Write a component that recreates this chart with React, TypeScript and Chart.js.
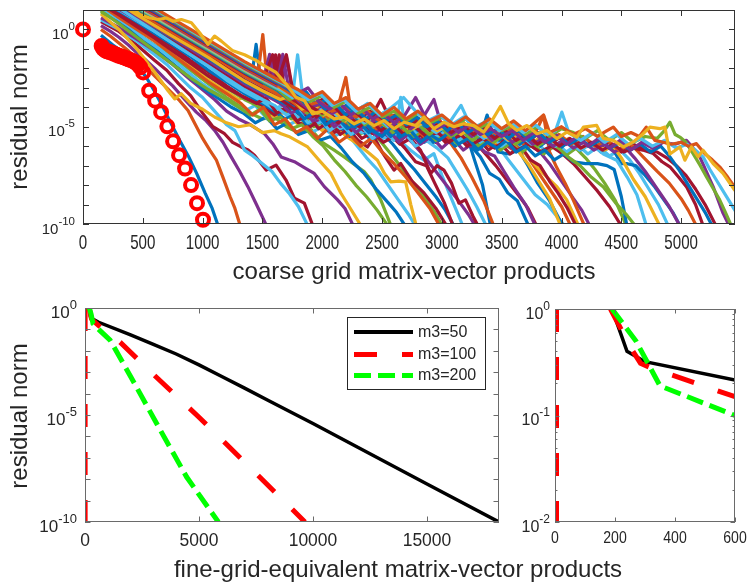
import React, { useEffect, useRef } from "react";
import { Chart, registerables } from "chart.js";
Chart.register(...registerables);

const MATLAB = ["#0072BD", "#D95319", "#EDB120", "#7E2F8E", "#77AC30", "#4DBEEE", "#A2142F"];
const FONT = "'Liberation Sans', Arial, sans-serif";

// ---------- top panel: coarse grid runs (x, log10 residual) ----------
const circleX = [0, 156, 170, 185, 200, 220, 240, 260, 280, 300, 320, 340, 360, 380, 400, 420, 440, 460, 480, 503, 553, 603, 653, 705, 753, 803, 853, 903, 953, 1003];
const circleExp = [0, -0.85, -1.0, -1.08, -1.12, -1.16, -1.2, -1.25, -1.3, -1.35, -1.39, -1.43, -1.48, -1.53, -1.58, -1.63, -1.7, -1.8, -1.95, -2.21, -3.15, -3.66, -4.25, -4.98, -5.75, -6.46, -7.15, -8.0, -8.93, -9.78];

const runColor = [0, 1, 3, 6, 5, 3, 2, 4, 0, 5, 2, 4, 6, 0, 5, 3, 6, 0, 1, 0, 6, 5, 1, 2, 3,
  4, 1, 6, 5, 3, 0, 6, 4, 1, 2, 5, 6, 0,
  6, 0, 4, 5, 2, 3, 1, 6, 0, 3, 4, 5, 1, 2];

const runs: number[][] = [
  [150,-0.3, 250,-0.8, 330,-1.15, 392,-1.44, 460,-1.9, 530,-2.47, 600,-3.2, 660,-3.9, 725,-4.7, 808,-5.7, 880,-6.5, 950,-7.4, 1020,-8.4, 1080,-9.2, 1130,-10.1],
  [150,0.0, 230,-0.35, 300,-0.7, 380,-1.1, 450,-1.5, 530,-1.95, 600,-2.4, 700,-3.0, 808,-3.66, 878,-4.17, 940,-4.9, 1000,-5.6, 1060,-6.2, 1114,-6.7, 1170,-7.6, 1230,-8.6, 1270,-9.2, 1315,-10.1],
  [150,0.2, 230,-0.1, 300,-0.4, 380,-0.8, 450,-1.2, 530,-1.6, 600,-2.0, 680,-2.5, 750,-2.9, 850,-3.6, 947,-4.25, 1030,-4.7, 1100,-5.19, 1170,-5.8, 1239,-6.55, 1310,-7.3, 1378,-8.08, 1450,-9.0, 1535,-10.1],
  [150,0.4, 300,-0.1, 450,-0.8, 600,-1.6, 700,-2.1, 800,-2.8, 900,-3.4, 1000,-4.3, 1086,-5.0, 1183,-5.36, 1250,-5.8, 1322,-6.04, 1380,-6.2, 1433,-6.46, 1531,-7.23, 1614,-6.97, 1697,-7.74, 1767,-8.67, 1850,-8.93, 1922,-10.1],
  [150,0.5, 300,0.0, 450,-0.6, 600,-1.3, 700,-1.8, 800,-2.4, 900,-3.0, 1000,-3.5, 1100,-4.2, 1200,-4.9, 1270,-5.2, 1350,-6.2, 1420,-6.5, 1500,-6.9, 1580,-7.3, 1650,-7.9, 1720,-8.4, 1800,-9.1, 1880,-10.1],
  [150,0.6, 300,0.1, 450,-0.5, 600,-1.1, 750,-1.8, 900,-2.6, 1000,-3.1, 1100,-3.6, 1200,-4.2, 1300,-4.6, 1400,-4.9, 1517,-5.36, 1586,-5.87, 1656,-6.55, 1720,-6.7, 1767,-6.8, 1850,-7.1, 1933,-7.4, 2017,-8.08, 2128,-8.76, 2190,-9.2, 2260,-10.1],
  [150,0.8, 300,0.0, 450,-1.0, 600,-2.2, 711,-3.15, 767,-3.57, 820,-3.3, 900,-3.8, 1000,-4.1, 1100,-4.5, 1200,-4.8, 1300,-5.0, 1400,-4.9, 1500,-5.3, 1600,-5.2, 1656,-5.36, 1720,-5.5, 1780,-5.7, 1878,-6.04, 1970,-6.7, 2072,-7.4, 2156,-8.42, 2225,-9.1, 2325,-10.1],
  [150,0.9, 300,0.4, 450,-0.2, 600,-0.8, 750,-1.4, 900,-2.1, 1050,-2.8, 1200,-3.5, 1300,-3.9, 1400,-4.3, 1500,-4.6, 1600,-4.5, 1700,-5.0, 1800,-5.3, 1900,-5.1, 2000,-5.8, 2100,-6.2, 2183,-6.55, 2260,-6.9, 2350,-7.3, 2406,-7.74, 2489,-8.76, 2575,-10.1],
  [150,1.0, 280,0.5, 400,-0.1, 520,-0.6, 640,-1.2, 760,-1.8, 880,-2.4, 1000,-3.0, 1120,-3.5, 1240,-4.0, 1340,-4.3, 1440,-4.8, 1530,-4.5, 1620,-5.1, 1710,-4.8, 1800,-5.4, 1890,-5.2, 1980,-5.7, 2070,-5.5, 2160,-6.1, 2250,-6.8, 2350,-7.4, 2450,-8.2, 2550,-8.9, 2620,-9.4, 2705,-10.2],
  [150,1.1, 280,0.6, 400,0.1, 520,-0.5, 640,-1.0, 760,-1.6, 880,-2.2, 1000,-2.8, 1120,-3.3, 1240,-3.8, 1350,-4.2, 1440,-3.9, 1540,-4.6, 1630,-4.3, 1720,-4.9, 1820,-4.6, 1910,-5.3, 2000,-5.0, 2100,-5.5, 2190,-5.2, 2280,-5.9, 2370,-6.6, 2460,-7.2, 2550,-8.0, 2640,-8.8, 2720,-9.5, 2800,-10.3],
  [150,1.2, 300,0.7, 450,0.1, 600,-0.5, 750,-1.2, 900,-1.9, 1050,-2.6, 1200,-3.2, 1300,-3.6, 1400,-3.3, 1500,-4.0, 1600,-4.5, 1700,-4.2, 1800,-4.9, 1900,-4.6, 2000,-5.2, 2100,-4.9, 2200,-5.5, 2300,-5.9, 2400,-6.4, 2461,-6.72, 2520,-7.4, 2572,-7.83, 2640,-7.8, 2697,-7.83, 2740,-9.0, 2790,-10.2],
  [150,1.3, 300,0.8, 450,0.2, 600,-0.4, 750,-1.0, 900,-1.7, 1050,-2.4, 1200,-3.0, 1350,-3.6, 1450,-3.9, 1550,-4.4, 1640,-4.0, 1740,-4.6, 1830,-4.3, 1930,-5.0, 2020,-4.7, 2120,-5.2, 2210,-4.8, 2310,-5.4, 2400,-5.1, 2480,-5.7, 2560,-6.3, 2650,-7.0, 2750,-7.8, 2850,-8.6, 2950,-9.5, 3020,-10.3],
  [150,1.35, 300,0.9, 450,0.3, 600,-0.3, 750,-0.9, 900,-1.6, 1050,-2.2, 1200,-2.9, 1350,-3.5, 1500,-3.9, 1600,-4.4, 1700,-4.1, 1800,-4.8, 1900,-5.0, 2000,-4.6, 2100,-5.3, 2200,-5.0, 2300,-5.7, 2378,-6.04, 2433,-5.53, 2500,-6.3, 2600,-7.23, 2656,-6.89, 2750,-7.8, 2850,-8.4, 2950,-9.2, 3050,-10.2],
  [150,1.4, 300,0.95, 450,0.4, 600,-0.2, 750,-0.8, 900,-1.4, 1050,-2.1, 1200,-2.7, 1350,-3.3, 1500,-3.8, 1600,-4.2, 1690,-4.6, 1780,-4.2, 1870,-4.9, 1960,-4.5, 2050,-5.2, 2140,-4.9, 2230,-5.5, 2320,-5.1, 2410,-5.7, 2500,-5.3, 2590,-5.9, 2680,-6.6, 2770,-7.2, 2860,-7.9, 2950,-8.6, 3030,-9.3, 3110,-10.2],
  [150,1.45, 300,1.0, 450,0.45, 600,-0.1, 750,-0.7, 900,-1.3, 1050,-1.9, 1200,-2.6, 1350,-3.2, 1500,-3.7, 1600,-4.1, 1700,-3.8, 1790,-4.5, 1880,-4.2, 1970,-4.8, 2060,-4.5, 2150,-5.1, 2240,-4.7, 2330,-5.3, 2420,-5.0, 2510,-5.6, 2600,-5.3, 2680,-5.9, 2739,-6.21, 2800,-6.5, 2850,-6.72, 2933,-6.38, 3000,-7.5, 3080,-8.7, 3175,-10.1],
  [150,1.5, 300,1.05, 450,0.5, 600,0.0, 750,-0.6, 900,-1.2, 1050,-1.8, 1200,-2.4, 1350,-3.0, 1500,-3.5, 1600,-1.4, 1650,-3.3, 1700,-1.4, 1760,-3.6, 1850,-4.3, 1950,-4.7, 2050,-4.4, 2150,-5.0, 2250,-4.7, 2350,-5.2, 2450,-4.9, 2550,-5.5, 2650,-5.2, 2750,-5.8, 2850,-6.5, 2950,-7.3, 3050,-8.1, 3150,-8.9, 3220,-9.5, 3290,-10.2],
  [150,1.55, 300,1.1, 450,0.55, 600,0.05, 750,-0.5, 900,-1.1, 1050,-1.7, 1200,-2.3, 1350,-2.9, 1500,-3.4, 1580,-3.2, 1640,-1.3, 1690,-3.4, 1750,-4.0, 1850,-4.6, 1950,-4.3, 2050,-4.9, 2150,-4.6, 2250,-5.2, 2350,-4.9, 2450,-5.5, 2550,-5.3, 2650,-5.9, 2740,-5.6, 2822,-6.21, 2906,-7.4, 2960,-7.0, 3017,-7.23, 3080,-7.9, 3142,-8.93, 3197,-8.76, 3260,-9.6, 3320,-10.3],
  [150,1.6, 300,1.15, 450,0.6, 600,0.1, 750,-0.45, 900,-1.0, 1050,-1.6, 1200,-2.2, 1300,-2.5, 1400,-2.9, 1447,-0.77, 1490,-2.9, 1560,-3.4, 1650,-3.8, 1750,-4.1, 1850,-4.5, 1950,-4.2, 2050,-4.8, 2150,-4.5, 2250,-5.1, 2350,-4.8, 2450,-5.3, 2550,-5.0, 2650,-5.6, 2750,-5.3, 2850,-5.8, 2950,-5.5, 3040,-5.2, 3100,-5.36, 3170,-5.7, 3239,-6.04, 3267,-6.6, 3340,-8.0, 3410,-10.2],
  [150,1.65, 300,1.2, 450,0.65, 600,0.15, 750,-0.4, 900,-0.95, 1050,-1.5, 1200,-2.1, 1350,-2.7, 1450,-3.0, 1503,-0.26, 1545,-3.0, 1600,-3.3, 1700,-3.7, 1800,-4.0, 1900,-4.4, 2000,-4.2, 2100,-4.7, 2197,-2.47, 2250,-4.6, 2300,-5.0, 2400,-4.8, 2500,-5.2, 2600,-5.0, 2700,-5.4, 2800,-5.2, 2900,-5.6, 3000,-5.4, 3080,-5.9, 3160,-6.6, 3250,-7.6, 3350,-8.8, 3440,-10.2],
  [150,1.7, 300,1.25, 450,0.7, 600,0.2, 750,-0.35, 900,-0.9, 1050,-1.45, 1200,-2.0, 1350,-2.6, 1500,-3.1, 1650,-3.6, 1750,-3.9, 1850,-4.3, 1950,-4.1, 2050,-4.6, 2150,-4.4, 2250,-4.9, 2350,-4.7, 2450,-5.1, 2550,-4.9, 2650,-5.3, 2750,-5.1, 2850,-5.5, 2950,-5.3, 3050,-5.7, 3150,-5.5, 3230,-5.9, 3322,-6.55, 3400,-7.4, 3480,-7.7, 3550,-8.4, 3630,-8.8, 3725,-10.1],
  [150,1.75, 300,1.3, 450,0.75, 600,0.25, 750,-0.3, 900,-0.85, 1050,-1.4, 1200,-1.95, 1350,-2.5, 1500,-3.0, 1560,-2.9, 1610,-1.3, 1660,-3.2, 1750,-3.8, 1850,-4.2, 1950,-4.6, 2050,-4.4, 2150,-4.9, 2250,-4.7, 2350,-5.2, 2450,-5.0, 2550,-5.4, 2650,-5.2, 2750,-5.6, 2850,-5.4, 2950,-5.8, 3050,-5.4, 3150,-5.8, 3250,-5.6, 3350,-6.3, 3450,-7.0, 3550,-7.8, 3650,-8.6, 3720,-9.2, 3800,-10.2],
  [150,1.8, 300,1.35, 450,0.8, 600,0.3, 750,-0.25, 900,-0.8, 1050,-1.35, 1200,-1.9, 1350,-2.45, 1500,-2.95, 1640,-3.3, 1750,-3.6, 1800,-3.9, 1900,-4.3, 2000,-4.1, 2100,-4.6, 2200,-4.4, 2300,-4.9, 2400,-4.7, 2500,-5.1, 2600,-4.9, 2700,-5.3, 2800,-5.1, 2900,-5.5, 3000,-5.3, 3100,-5.7, 3200,-5.5, 3300,-5.9, 3400,-5.7, 3480,-6.1, 3580,-6.9, 3680,-7.7, 3780,-8.5, 3880,-9.0, 3960,-9.6, 4040,-10.2],
  [150,1.85, 300,1.4, 450,0.85, 600,0.35, 750,-0.2, 900,-0.75, 1050,-1.3, 1200,-1.85, 1350,-2.4, 1500,-2.9, 1650,-3.4, 1800,-3.85, 1900,-4.2, 2000,-4.5, 2100,-4.3, 2200,-4.8, 2300,-4.6, 2400,-5.0, 2500,-4.8, 2600,-5.2, 2700,-5.0, 2800,-5.4, 2900,-5.2, 3000,-5.6, 3100,-5.4, 3200,-5.8, 3300,-5.6, 3400,-6.0, 3500,-5.8, 3600,-6.2, 3700,-6.38, 3800,-7.3, 3900,-8.2, 4000,-9.1, 4085,-10.2],
  [150,1.9, 300,1.45, 450,0.9, 600,0.4, 750,-0.15, 900,-0.7, 1050,-1.25, 1200,-1.8, 1350,-2.35, 1500,-2.85, 1650,-3.3, 1800,-3.75, 1900,-4.1, 2000,-4.4, 2100,-4.2, 2200,-4.7, 2300,-4.5, 2400,-4.9, 2500,-4.7, 2600,-5.1, 2700,-4.9, 2800,-5.3, 2900,-5.1, 3000,-5.5, 3100,-5.3, 3200,-5.7, 3300,-5.5, 3400,-5.9, 3500,-5.6, 3600,-5.9, 3700,-6.4, 3794,-7.06, 3880,-7.6, 3961,-8.08, 4044,-8.76, 4150,-10.2],
  [150,1.95, 300,1.5, 450,0.95, 600,0.45, 750,-0.1, 900,-0.65, 1050,-1.2, 1200,-1.75, 1350,-2.3, 1500,-2.8, 1560,-1.28, 1610,-3.0, 1700,-3.4, 1795,-3.9, 1880,-4.5, 1965,-4.1, 2050,-4.6, 2135,-4.9, 2220,-4.4, 2305,-5.0, 2390,-4.8, 2475,-5.3, 2560,-4.9, 2645,-5.4, 2730,-5.1, 2815,-5.7, 2900,-5.4, 2985,-5.2, 3070,-5.8, 3155,-5.5, 3240,-6.0, 3325,-5.6, 3410,-5.9, 3495,-5.6, 3580,-6.1, 3665,-5.8, 3750,-6.0, 3820,-6.3, 3900,-6.9, 4000,-7.8, 4100,-8.7, 4170,-9.3, 4245,-10.2],
  // extra runs filling the band
  [150,0.95, 300,0.3, 450,-0.4, 600,-1.1, 750,-1.8, 900,-2.5, 1050,-3.1, 1200,-3.6, 1300,-4.0, 1400,-4.4, 1480,-4.1, 1560,-4.7, 1650,-4.5, 1740,-5.1, 1830,-4.9, 1920,-5.5, 2010,-6.0, 2100,-6.7, 2190,-7.3, 2280,-8.0, 2370,-8.6, 2460,-9.3, 2560,-10.2],
  [150,1.25, 300,0.6, 450,0.0, 600,-0.6, 750,-1.3, 900,-2.0, 1050,-2.7, 1200,-3.3, 1320,-3.8, 1420,-4.4, 1510,-4.0, 1600,-4.9, 1690,-4.6, 1780,-5.3, 1870,-5.0, 1960,-5.6, 2050,-5.1, 2140,-5.8, 2230,-5.4, 2320,-6.0, 2410,-5.6, 2500,-6.3, 2600,-6.9, 2700,-7.6, 2800,-8.4, 2900,-9.2, 2990,-10.2],
  [150,1.3, 300,0.75, 450,0.15, 600,-0.45, 750,-1.1, 900,-1.75, 1050,-2.4, 1200,-3.0, 1350,-3.5, 1450,-3.8, 1530,-3.5, 1620,-4.3, 1700,-4.0, 1790,-4.7, 1880,-4.4, 1970,-5.1, 2060,-4.7, 2150,-5.4, 2240,-5.0, 2330,-5.6, 2420,-5.3, 2510,-5.8, 2600,-5.5, 2690,-6.1, 2780,-6.8, 2870,-7.0, 2940,-7.9, 3020,-8.9, 3100,-10.2],
  [150,1.6, 300,1.1, 450,0.5, 600,-0.1, 750,-0.7, 900,-1.3, 1050,-1.9, 1200,-2.5, 1350,-3.1, 1500,-3.6, 1600,-3.9, 1700,-4.4, 1790,-4.1, 1880,-4.8, 1970,-4.5, 2060,-5.2, 2150,-4.8, 2240,-5.4, 2330,-5.0, 2420,-5.6, 2510,-5.2, 2600,-5.7, 2656,-3.49, 2700,-5.4, 2780,-6.0, 2870,-5.7, 2960,-6.1, 3050,-6.6, 3130,-7.4, 3210,-8.2, 3290,-9.1, 3380,-10.2],
  [150,1.8, 300,1.3, 450,0.7, 600,0.15, 750,-0.4, 900,-1.0, 1050,-1.6, 1200,-2.2, 1350,-2.8, 1500,-3.3, 1650,-3.8, 1740,-4.3, 1830,-4.0, 1920,-4.7, 2010,-4.3, 2100,-5.0, 2190,-4.6, 2280,-5.3, 2370,-4.9, 2460,-5.5, 2550,-5.1, 2640,-5.8, 2730,-5.3, 2820,-5.9, 2910,-5.5, 3000,-6.1, 3090,-5.6, 3180,-6.2, 3270,-5.8, 3360,-6.3, 3440,-6.5, 3520,-7.3, 3600,-8.1, 3700,-9.0, 3790,-10.2],
  [150,1.9, 300,1.4, 450,0.8, 600,0.25, 750,-0.3, 900,-0.9, 1050,-1.5, 1200,-2.1, 1350,-2.7, 1500,-3.2, 1650,-3.7, 1760,-4.0, 1850,-4.6, 1940,-4.2, 2030,-4.9, 2120,-4.5, 2210,-5.1, 2300,-4.7, 2390,-5.3, 2480,-4.9, 2570,-5.5, 2660,-5.0, 2750,-5.6, 2840,-5.2, 2930,-5.8, 3020,-5.4, 3110,-6.0, 3200,-5.6, 3290,-6.1, 3378,-4.4, 3470,-6.3, 3560,-6.4, 3640,-6.2, 3720,-7.0, 3800,-7.9, 3900,-8.8, 4020,-10.2],
  [150,2.0, 300,1.45, 450,0.9, 600,0.35, 750,-0.2, 900,-0.8, 1050,-1.4, 1200,-2.0, 1350,-2.6, 1500,-3.1, 1650,-3.6, 1770,-4.1, 1860,-3.8, 1950,-4.5, 2040,-4.1, 2130,-4.8, 2220,-4.4, 2310,-5.0, 2400,-4.6, 2489,-3.6, 2580,-4.8, 2670,-5.4, 2760,-5.0, 2850,-5.6, 2940,-5.2, 3030,-5.8, 3120,-5.4, 3210,-6.0, 3300,-5.6, 3390,-6.2, 3480,-5.8, 3570,-6.4, 3660,-6.0, 3740,-6.7, 3820,-7.0, 3900,-7.8, 3970,-8.4, 4050,-9.2, 4130,-10.2],
  [150,2.15, 300,1.6, 450,1.05, 600,0.5, 750,-0.05, 900,-0.6, 1050,-1.15, 1200,-1.7, 1350,-2.3, 1500,-2.8, 1650,-3.3, 1780,-3.8, 1870,-4.3, 1960,-3.9, 2050,-4.6, 2140,-4.2, 2230,-4.9, 2320,-4.5, 2410,-5.1, 2500,-4.7, 2590,-5.3, 2680,-4.9, 2770,-5.5, 2860,-5.1, 2950,-5.7, 3040,-5.3, 3130,-5.9, 3220,-5.5, 3310,-6.0, 3400,-5.6, 3490,-6.2, 3580,-5.8, 3670,-6.3, 3760,-5.9, 3850,-6.4, 3940,-6.0, 4030,-6.5, 4120,-6.1, 4200,-6.6, 4280,-7.2, 4360,-7.9, 4450,-8.8, 4550,-10.2],
  [150,2.05, 300,1.5, 450,0.95, 600,0.4, 750,-0.15, 900,-0.7, 1050,-1.25, 1200,-1.8, 1350,-2.4, 1500,-2.9, 1650,-3.4, 1750,-3.7, 1850,-4.2, 1950,-3.9, 2050,-4.5, 2150,-4.2, 2250,-4.8, 2350,-4.4, 2450,-5.1, 2550,-4.6, 2650,-5.3, 2750,-4.9, 2850,-5.5, 2950,-5.0, 3050,-5.6, 3150,-5.2, 3250,-5.8, 3350,-5.4, 3450,-5.9, 3550,-5.5, 3650,-6.0, 3750,-5.7, 3850,-4.42, 3900,-6.3, 3960,-7.1, 4030,-7.9, 4100,-8.8, 4200,-10.2],
  [150,1.85, 300,1.35, 450,0.75, 600,0.2, 750,-0.35, 900,-0.9, 1050,-1.45, 1200,-2.05, 1350,-2.65, 1500,-3.15, 1650,-3.6, 1740,-3.4, 1830,-4.1, 1920,-3.8, 2010,-4.4, 2100,-4.1, 2190,-4.7, 2280,-4.3, 2370,-4.9, 2460,-4.6, 2550,-5.1, 2640,-4.7, 2730,-5.3, 2820,-4.9, 2910,-5.4, 3000,-5.0, 3090,-5.5, 3180,-5.2, 3270,-5.7, 3360,-5.3, 3450,-5.8, 3540,-5.5, 3630,-6.2, 3720,-6.9, 3800,-7.7, 3900,-8.7, 4000,-10.2],
  [150,2.3, 300,1.75, 450,1.2, 600,0.65, 750,0.1, 900,-0.45, 1050,-1.0, 1200,-1.55, 1350,-2.1, 1500,-2.6, 1650,-3.1, 1790,-3.6, 1880,-4.1, 1970,-3.7, 2060,-4.4, 2150,-4.0, 2240,-4.7, 2330,-4.3, 2420,-4.9, 2510,-4.5, 2600,-5.1, 2690,-4.7, 2780,-5.3, 2870,-4.9, 2960,-5.5, 3050,-5.1, 3140,-5.7, 3230,-5.3, 3320,-5.8, 3410,-5.4, 3500,-6.0, 3590,-5.6, 3680,-6.1, 3770,-5.7, 3860,-6.2, 3950,-5.8, 4040,-6.3, 4130,-5.9, 4220,-6.4, 4310,-6.0, 4400,-6.5, 4490,-6.2, 4570,-6.7, 4650,-7.4, 4730,-8.2, 4810,-9.0, 4900,-10.2],
  [150,2.4, 300,1.9, 450,1.35, 600,0.8, 750,0.25, 900,-0.3, 1050,-0.85, 1200,-1.4, 1350,-1.95, 1500,-2.45, 1650,-2.95, 1800,-3.45, 1900,-3.9, 2000,-3.6, 2100,-4.3, 2200,-3.9, 2300,-4.6, 2400,-4.2, 2500,-4.8, 2600,-4.4, 2700,-5.0, 2800,-4.6, 2900,-5.2, 3000,-4.8, 3100,-5.4, 3200,-5.0, 3300,-5.6, 3400,-5.2, 3500,-5.7, 3600,-5.3, 3700,-5.8, 3800,-5.4, 3900,-5.9, 4000,-5.5, 4100,-6.0, 4200,-5.6, 4300,-6.1, 4400,-5.8, 4500,-6.3, 4600,-5.9, 4700,-6.2, 4800,-6.3, 4880,-6.6, 4960,-7.0, 5040,-7.5, 5120,-8.2, 5200,-9.0, 5300,-10.2],
  [150,2.35, 300,1.85, 450,1.3, 600,0.75, 750,0.2, 900,-0.35, 1050,-0.9, 1200,-1.45, 1350,-2.0, 1500,-2.5, 1650,-3.0, 1780,-3.5, 1865,-3.2, 1950,-3.9, 2035,-3.6, 2120,-4.3, 2205,-3.9, 2290,-4.6, 2375,-4.2, 2460,-4.8, 2545,-4.4, 2630,-5.0, 2715,-4.6, 2800,-5.2, 2885,-4.8, 2970,-5.3, 3055,-4.9, 3140,-5.5, 3225,-5.1, 3310,-5.6, 3395,-5.2, 3480,-5.7, 3565,-5.3, 3650,-5.9, 3735,-5.5, 3820,-6.0, 3905,-5.6, 3990,-6.1, 4075,-5.7, 4160,-6.2, 4245,-5.8, 4330,-6.3, 4415,-6.0, 4500,-6.9, 4550,-6.9, 4620,-7.0, 4700,-7.5, 4780,-8.1, 4860,-8.8, 4930,-9.4, 5000,-10.2],
  // long runs
  [150,2.0, 300,1.55, 450,1.0, 600,0.5, 750,-0.05, 900,-0.6, 1050,-1.15, 1200,-1.7, 1350,-2.25, 1500,-2.75, 1585,-1.3, 1635,-3.0, 1730,-3.5, 1825,-3.9, 1920,-4.3, 2015,-4.0, 2110,-4.6, 2205,-4.3, 2300,-4.9, 2395,-4.6, 2490,-5.2, 2585,-4.8, 2680,-5.4, 2775,-5.0, 2870,-5.5, 2965,-5.3, 3060,-5.8, 3155,-5.4, 3250,-5.9, 3345,-5.6, 3440,-6.1, 3535,-5.7, 3630,-6.2, 3725,-5.9, 3820,-6.3, 3915,-6.0, 4010,-6.4, 4100,-6.9, 4200,-7.6, 4300,-8.3, 4400,-9.1, 4500,-10.1],
  [150,2.05, 300,1.6, 450,1.05, 600,0.55, 750,0.0, 900,-0.55, 1050,-1.1, 1200,-1.65, 1350,-2.2, 1500,-2.7, 1620,-3.1, 1700,-3.5, 1780,-3.3, 1860,-3.9, 1940,-4.3, 2020,-4.1, 2100,-4.7, 2180,-4.4, 2260,-5.0, 2340,-4.7, 2420,-5.2, 2500,-5.5, 2580,-5.0, 2660,-5.5, 2740,-5.2, 2820,-5.8, 2900,-5.4, 2980,-5.7, 3060,-5.3, 3140,-5.9, 3220,-5.6, 3300,-6.2, 3380,-5.8, 3460,-6.1, 3540,-5.7, 3620,-6.3, 3700,-6.0, 3780,-6.5, 3860,-6.2, 3940,-6.7, 4020,-6.4, 4100,-6.8, 4200,-6.9, 4300,-6.9, 4380,-7.0, 4440,-7.2, 4500,-8.6, 4550,-10.2],
  [150,2.1, 300,1.65, 450,1.1, 600,0.6, 750,0.05, 900,-0.5, 1050,-1.05, 1200,-1.6, 1350,-2.15, 1500,-2.65, 1635,-3.1, 1725,-3.6, 1815,-3.4, 1905,-4.0, 1995,-4.4, 2085,-4.1, 2175,-4.7, 2265,-4.3, 2355,-4.9, 2445,-4.5, 2535,-5.0, 2625,-4.7, 2715,-5.3, 2805,-4.9, 2895,-5.4, 2985,-5.0, 3075,-5.5, 3165,-5.2, 3255,-5.7, 3345,-5.3, 3435,-5.8, 3525,-5.4, 3615,-5.9, 3705,-5.5, 3795,-6.0, 3885,-5.7, 3975,-6.1, 4065,-6.6, 4155,-7.0, 4250,-7.6, 4350,-8.1, 4450,-8.9, 4540,-9.5, 4630,-10.2],
  [150,2.15, 300,1.7, 450,1.15, 600,0.65, 750,0.1, 900,-0.45, 1050,-1.0, 1200,-1.55, 1350,-2.1, 1500,-2.6, 1650,-3.1, 1750,-3.5, 1794,-1.3, 1840,-3.6, 1950,-4.2, 2050,-4.0, 2150,-4.6, 2250,-4.2, 2350,-4.8, 2450,-4.4, 2550,-5.0, 2650,-4.6, 2750,-5.1, 2850,-4.8, 2950,-5.3, 3050,-4.9, 3160,-3.9, 3250,-5.1, 3350,-5.6, 3450,-5.2, 3550,-5.7, 3650,-5.4, 3750,-5.9, 3850,-5.5, 3950,-6.0, 4050,-5.7, 4150,-6.2, 4250,-5.9, 4350,-6.4, 4461,-6.72, 4550,-7.6, 4630,-8.5, 4710,-10.1],
  [150,2.2, 300,1.75, 450,1.2, 600,0.7, 750,0.15, 900,-0.4, 1050,-0.95, 1200,-1.5, 1350,-2.05, 1500,-2.55, 1650,-3.0, 1760,-3.4, 1860,-3.9, 1960,-4.3, 2060,-4.0, 2160,-4.5, 2260,-4.2, 2360,-4.7, 2460,-4.4, 2560,-4.9, 2660,-4.6, 2760,-5.1, 2860,-4.7, 2960,-5.2, 3060,-4.9, 3160,-5.4, 3260,-5.0, 3360,-5.5, 3460,-5.2, 3560,-5.7, 3660,-5.3, 3760,-5.8, 3860,-5.4, 3960,-5.9, 4060,-5.6, 4160,-6.1, 4260,-5.8, 4360,-6.2, 4430,-6.0, 4500,-6.6, 4600,-7.7, 4700,-8.6, 4830,-10.2],
  [150,2.25, 300,1.8, 450,1.25, 600,0.75, 750,0.2, 900,-0.35, 1050,-0.9, 1200,-1.45, 1350,-2.0, 1500,-2.5, 1620,-2.9, 1670,-1.28, 1720,-3.1, 1805,-3.7, 1890,-4.1, 1975,-3.8, 2060,-4.4, 2145,-4.1, 2230,-4.6, 2315,-4.3, 2400,-4.8, 2485,-4.5, 2570,-5.0, 2655,-4.6, 2740,-5.1, 2825,-4.7, 2933,-3.6, 2995,-4.9, 3080,-5.4, 3165,-5.0, 3250,-5.5, 3335,-5.1, 3420,-5.7, 3505,-5.3, 3590,-5.8, 3675,-5.4, 3760,-5.9, 3845,-5.6, 3930,-6.0, 4015,-5.7, 4100,-6.1, 4185,-5.8, 4270,-6.2, 4355,-5.9, 4440,-6.3, 4525,-6.0, 4610,-6.6, 4700,-7.3, 4800,-8.2, 4900,-9.1, 4990,-10.1],
  [150,2.3, 300,1.85, 450,1.3, 600,0.8, 750,0.25, 900,-0.3, 1050,-0.85, 1200,-1.4, 1350,-1.95, 1500,-2.45, 1650,-2.95, 1780,-3.5, 1880,-3.9, 1980,-3.7, 2080,-4.2, 2180,-4.0, 2280,-4.5, 2380,-4.2, 2480,-4.7, 2580,-4.4, 2680,-4.9, 2780,-4.5, 2880,-5.0, 2980,-4.7, 3080,-5.2, 3180,-4.8, 3280,-5.3, 3380,-5.0, 3480,-5.5, 3580,-5.1, 3680,-5.6, 3780,-5.2, 3880,-5.7, 3980,-5.4, 4080,-5.9, 4180,-5.5, 4280,-6.0, 4380,-5.7, 4480,-6.2, 4580,-5.9, 4708,-6.72, 4800,-7.3, 4900,-7.9, 5000,-8.7, 5060,-9.3, 5128,-10.1],
  [150,2.35, 300,1.9, 450,1.35, 600,0.85, 750,0.3, 900,-0.25, 1050,-0.8, 1200,-1.35, 1350,-1.9, 1500,-2.4, 1620,-2.8, 1700,-1.3, 1750,-3.0, 1820,-3.6, 1910,-4.0, 2000,-4.3, 2090,-3.9, 2180,-4.5, 2270,-4.2, 2360,-4.7, 2450,-4.3, 2540,-4.8, 2630,-4.5, 2720,-5.0, 2810,-4.6, 2900,-5.1, 2990,-4.8, 3080,-5.3, 3170,-4.9, 3260,-5.4, 3350,-5.1, 3440,-5.6, 3530,-5.2, 3620,-5.7, 3710,-5.4, 3800,-5.9, 3890,-5.5, 3980,-6.0, 4070,-5.6, 4160,-6.1, 4250,-5.8, 4340,-6.2, 4430,-5.9, 4520,-6.3, 4600,-6.1, 4680,-6.2, 4767,-6.38, 4840,-6.8, 4906,-7.06, 4980,-7.6, 5044,-8.08, 5120,-9.0, 5190,-10.2],
  [150,2.4, 300,1.95, 450,1.4, 600,0.9, 750,0.35, 900,-0.2, 1050,-0.75, 1200,-1.3, 1350,-1.85, 1500,-2.35, 1650,-2.85, 1770,-3.3, 1855,-3.8, 1940,-3.5, 2025,-4.1, 2110,-3.8, 2195,-4.4, 2280,-4.1, 2365,-4.6, 2450,-4.2, 2535,-4.7, 2620,-4.4, 2705,-4.9, 2790,-4.5, 2875,-5.0, 2960,-4.7, 3045,-5.2, 3130,-4.8, 3215,-5.3, 3300,-5.0, 3385,-5.4, 3470,-5.1, 3555,-5.6, 3640,-5.2, 3725,-5.7, 3810,-5.3, 3895,-5.8, 3980,-5.5, 4065,-5.9, 4150,-5.6, 4235,-6.0, 4320,-5.7, 4405,-6.1, 4490,-5.8, 4575,-6.2, 4660,-5.9, 4745,-6.3, 4830,-6.0, 4900,-6.5, 4980,-7.2, 5060,-8.0, 5140,-8.8, 5200,-9.4, 5260,-10.1],
  [150,2.45, 300,2.0, 450,1.45, 600,0.95, 750,0.4, 900,-0.15, 1050,-0.7, 1200,-1.25, 1350,-1.8, 1500,-2.3, 1650,-2.8, 1790,-3.3, 1880,-3.0, 1970,-3.7, 2060,-4.1, 2150,-3.8, 2240,-4.4, 2330,-4.0, 2420,-4.6, 2510,-4.3, 2600,-4.8, 2690,-4.4, 2780,-3.5, 2870,-4.6, 2960,-5.1, 3050,-4.8, 3140,-5.3, 3230,-4.9, 3320,-5.4, 3410,-5.1, 3500,-5.5, 3590,-5.2, 3680,-5.7, 3770,-5.3, 3860,-5.8, 3950,-5.4, 4040,-5.9, 4130,-5.5, 4220,-6.0, 4310,-5.6, 4400,-6.1, 4490,-5.7, 4580,-6.2, 4670,-5.8, 4760,-6.1, 4850,-5.8, 4950,-5.9, 5044,-5.7, 5100,-6.1, 5156,-6.55, 5210,-7.3, 5267,-8.08, 5350,-9.44, 5410,-10.2],
  [150,2.5, 300,2.05, 450,1.5, 600,1.0, 750,0.45, 900,-0.1, 1050,-0.65, 1200,-1.2, 1350,-1.75, 1500,-2.25, 1650,-2.75, 1800,-3.25, 1900,-3.7, 2000,-3.4, 2100,-4.0, 2200,-3.7, 2300,-4.3, 2400,-4.0, 2500,-4.5, 2600,-4.2, 2700,-4.7, 2800,-4.3, 2900,-4.8, 3000,-4.5, 3100,-5.0, 3200,-4.6, 3300,-5.1, 3400,-4.8, 3500,-5.2, 3600,-4.9, 3700,-5.4, 3800,-5.0, 3900,-5.5, 4000,-5.1, 4100,-5.3, 4200,-5.6, 4300,-5.2, 4400,-5.7, 4500,-5.3, 4600,-5.8, 4700,-5.5, 4800,-5.6, 4860,-5.2, 4906,-4.77, 4950,-5.4, 4989,-5.53, 5040,-5.8, 5100,-6.38, 5160,-7.0, 5211,-7.57, 5270,-8.2, 5322,-8.76, 5370,-9.4, 5420,-10.1],
  [150,2.55, 300,2.1, 450,1.55, 600,1.05, 750,0.5, 900,-0.05, 1050,-0.6, 1200,-1.15, 1350,-1.7, 1500,-2.2, 1650,-2.7, 1780,-3.2, 1880,-3.6, 1980,-3.3, 2080,-3.9, 2180,-3.6, 2280,-4.2, 2380,-3.8, 2480,-4.4, 2580,-4.0, 2680,-3.5, 2780,-4.2, 2880,-4.7, 2980,-4.4, 3080,-4.9, 3180,-4.5, 3280,-5.0, 3380,-4.7, 3480,-5.2, 3580,-4.8, 3680,-5.3, 3780,-4.9, 3880,-5.4, 3950,-5.2, 4003,-4.25, 4060,-5.3, 4160,-5.7, 4260,-5.3, 4360,-5.8, 4460,-5.4, 4560,-5.9, 4660,-5.6, 4760,-6.0, 4860,-5.7, 4960,-6.1, 5050,-5.9, 5120,-6.2, 5183,-6.55, 5240,-7.2, 5294,-7.74, 5370,-8.5, 5447,-9.27, 5500,-9.8],
  [150,2.6, 300,2.15, 450,1.6, 600,1.1, 750,0.55, 900,0.0, 1050,-0.55, 1200,-1.1, 1350,-1.65, 1500,-2.15, 1650,-2.65, 1800,-3.1, 1900,-3.5, 2000,-3.2, 2100,-3.8, 2200,-3.5, 2300,-4.1, 2400,-3.8, 2500,-4.4, 2600,-4.0, 2700,-4.6, 2800,-4.2, 2900,-4.7, 3000,-4.4, 3100,-4.9, 3200,-4.5, 3300,-5.0, 3400,-4.6, 3500,-5.1, 3600,-4.7, 3700,-5.2, 3850,-4.4, 3900,-5.3, 4000,-5.0, 4100,-5.4, 4200,-5.1, 4300,-5.5, 4380,-5.2, 4433,-5.02, 4500,-5.5, 4580,-5.3, 4650,-5.5, 4708,-5.02, 4780,-5.7, 4850,-5.8, 4920,-5.9, 5000,-5.8, 5060,-6.0, 5128,-5.87, 5200,-6.4, 5260,-6.7, 5322,-7.06, 5390,-7.6, 5447,-8.1, 5500,-8.5],
  [150,2.8, 300,2.0, 433,1.0, 475,0.77, 550,0.6, 628,0.51, 697,0.59, 753,0.42, 822,0.51, 906,0.34, 975,-0.17, 1044,-0.77, 1100,-0.34, 1156,-0.6, 1253,-1.1, 1350,-1.3, 1450,-1.6, 1517,-1.87, 1614,-2.21, 1697,-2.8, 1781,-3.49, 1850,-3.66, 1919,-4.34, 2000,-4.2, 2100,-4.6, 2183,-4.51, 2267,-4.85, 2350,-4.6, 2433,-4.94, 2517,-4.68, 2600,-5.1, 2683,-4.77, 2781,-4.94, 2850,-4.51, 2933,-5.1, 3017,-4.77, 3100,-5.0, 3183,-4.85, 3267,-4.94, 3350,-5.28, 3419,-4.68, 3489,-3.96, 3558,-4.85, 3628,-5.19, 3711,-4.94, 3794,-5.36, 3878,-5.19, 3961,-5.61, 4044,-5.28, 4128,-5.53, 4183,-5.02, 4294,-4.93, 4350,-5.6, 4433,-5.7, 4517,-6.04, 4600,-5.78, 4683,-5.36, 4739,-5.02, 4822,-5.1, 4864,-5.02, 4906,-6.4, 4989,-6.04, 5031,-6.72, 5086,-6.04, 5142,-6.55, 5183,-6.21, 5267,-6.89, 5350,-7.4, 5447,-8.26, 5500,-8.7],
];

const topXTicks = [0, 500, 1000, 1500, 2000, 2500, 3000, 3500, 4000, 4500, 5000];
const topYDecades = [-10, -9, -8, -7, -6, -5, -4, -3, -2, -1, 0, 1];
const topYLabels = [-10, -5, 0];

// ---------- bottom panels: fine-grid-equivalent products ----------
const m50X = [190, 240, 300, 600, 2000, 3000, 4000, 5000, 6000, 7000, 8000, 10000, 15000, 18160];
const m50Y = [1, 0.40, 0.32, 0.215, 0.055, 0.02, 0.0071, 0.0022, 6.3e-4, 1.8e-4, 5.0e-5, 4.0e-6, 6.0e-9, 1e-10];
const m100X = [185, 255, 285, 320, 600, 1540, 3000, 5000, 7000, 9650];
const m100Y = [1, 0.42, 0.31, 0.28, 0.15, 0.0251, 7.9e-4, 7.9e-6, 6.3e-8, 1e-10];
const m200X = [190, 270, 350, 600, 1100, 2000, 3300, 4460, 5850];
const m200Y = [1, 0.5, 0.19, 0.1, 0.0316, 6.3e-4, 2e-6, 1.26e-8, 1e-10];
const startX = [5, 5];
const startY = [1, 1e-10];
const legendLabels = ["m3=50", "m3=100", "m3=200"];

const blXTicks = [0, 5000, 10000, 15000];
const blYDecades = [-10, -9, -8, -7, -6, -5, -4, -3, -2, -1, 0];
const blYLabels = [-10, -5, 0];
const brXTicks = [0, 200, 400, 600];
const brYDecades = [-2, -1, 0];
const brYLabels = [-2, -1, 0];

const pts = (xs: number[], ys: number[]) => xs.map((x, i) => ({ x, y: ys[i] }));
const runPts = (r: number[]) => {
  const out: { x: number; y: number }[] = [];
  for (let i = 0; i < r.length; i += 2) out.push({ x: r[i], y: Math.pow(10, r[i + 1]) });
  return out;
};

type AxCfg = {
  boxColor: string;
  xTicks: number[];
  xLabelY: number;
  xFont: number;
  xScaleX: number;
  tickLen: number;
  yDecades: number[];
  yLabels: number[];
  yMinor: boolean;
  baseFont: number;
  supFont: number;
  yGap: number;
  extra?: (ctx: CanvasRenderingContext2D) => void;
};

function axesPlugin(cfg: AxCfg) {
  return {
    id: "matlabAxes",
    afterDatasetsDraw(chart: any) {
      const { ctx, chartArea: a, scales } = chart;
      const xs = scales.x, ys = scales.y;
      const L = a.left, R = a.right, T = a.top, B = a.bottom;
      ctx.save();
      ctx.strokeStyle = cfg.boxColor;
      ctx.lineWidth = 1;
      ctx.setLineDash([]);
      ctx.beginPath();
      for (const v of cfg.xTicks) {
        const px = Math.round(xs.getPixelForValue(v)) + 0.5;
        ctx.moveTo(px, B); ctx.lineTo(px, B - cfg.tickLen);
        ctx.moveTo(px, T); ctx.lineTo(px, T + cfg.tickLen);
      }
      for (const d of cfg.yDecades) {
        const py = Math.round(ys.getPixelForValue(Math.pow(10, d))) + 0.5;
        ctx.moveTo(L, py); ctx.lineTo(L + cfg.tickLen, py);
        ctx.moveTo(R, py); ctx.lineTo(R - cfg.tickLen, py);
        if (cfg.yMinor && d < cfg.yDecades[cfg.yDecades.length - 1]) {
          for (let m = 2; m <= 9; m++) {
            const qy = Math.round(ys.getPixelForValue(m * Math.pow(10, d))) + 0.5;
            ctx.moveTo(L, qy); ctx.lineTo(L + cfg.tickLen * 0.55, qy);
            ctx.moveTo(R, qy); ctx.lineTo(R - cfg.tickLen * 0.55, qy);
          }
        }
      }
      ctx.stroke();
      ctx.strokeRect(Math.round(L) + 0.5, Math.round(T) + 0.5, Math.round(R - L) - 1, Math.round(B - T) - 1);

      ctx.fillStyle = "#262626";
      ctx.font = `${cfg.xFont}px ${FONT}`;
      ctx.textAlign = "center";
      ctx.textBaseline = "middle";
      for (const v of cfg.xTicks) {
        const px = xs.getPixelForValue(v);
        ctx.save();
        ctx.translate(px, cfg.xLabelY);
        ctx.scale(cfg.xScaleX, 1);
        ctx.fillText(String(v), 0, 0);
        ctx.restore();
      }
      ctx.textAlign = "left";
      for (const e of cfg.yLabels) {
        const py = ys.getPixelForValue(Math.pow(10, e));
        const sup = String(e);
        ctx.font = `${cfg.supFont}px ${FONT}`;
        const ws = ctx.measureText(sup).width;
        ctx.font = `${cfg.baseFont}px ${FONT}`;
        const wb = ctx.measureText("10").width;
        const right = L - cfg.yGap;
        ctx.fillText("10", right - ws - wb, py + 5.5);
        ctx.font = `${cfg.supFont}px ${FONT}`;
        ctx.fillText(sup, right - ws, py - 2.5);
      }
      if (cfg.extra) cfg.extra(ctx);
      ctx.restore();
    },
  };
}

function drawYTitle(ctx: CanvasRenderingContext2D, x: number, y: number) {
  ctx.save();
  ctx.translate(x, y);
  ctx.rotate(-Math.PI / 2);
  ctx.font = `24px ${FONT}`;
  ctx.fillStyle = "#262626";
  ctx.textAlign = "center";
  ctx.textBaseline = "middle";
  ctx.fillText("residual norm", 0, 0);
  ctx.restore();
}

function drawXTitle(ctx: CanvasRenderingContext2D, text: string, x: number, y: number) {
  ctx.save();
  ctx.font = `24px ${FONT}`;
  ctx.fillStyle = "#262626";
  ctx.textAlign = "center";
  ctx.textBaseline = "alphabetic";
  ctx.fillText(text, x, y);
  ctx.restore();
}

const baseOptions = (pad: any, xmin: number, xmax: number, ymin: number, ymax: number) => ({
  responsive: false,
  animation: false as const,
  devicePixelRatio: 1,
  events: [] as any[],
  layout: { padding: pad },
  plugins: { legend: { display: false }, tooltip: { enabled: false }, title: { display: false } },
  scales: {
    x: { type: "linear" as const, min: xmin, max: xmax, display: false },
    y: { type: "logarithmic" as const, min: ymin, max: ymax, display: false },
  },
  elements: { point: { radius: 0 }, line: { tension: 0 } },
});

const bottomSets = () => [
  { data: pts(m200X, m200Y), borderColor: "#00FF00", borderWidth: 5, borderDash: [17, 7], pointRadius: 0, fill: false },
  { data: pts(m100X, m100Y), borderColor: "#FF0000", borderWidth: 5, borderDash: [23, 25], pointRadius: 0, fill: false },
  { data: pts(m50X, m50Y), borderColor: "#000000", borderWidth: 3.5, pointRadius: 0, fill: false },
  { data: pts(startX, startY), borderColor: "#FF0000", borderWidth: 5, borderDash: [23, 25], pointRadius: 0, fill: false },
];

export default function App() {
  const topRef = useRef<HTMLCanvasElement>(null);
  const blRef = useRef<HTMLCanvasElement>(null);
  const brRef = useRef<HTMLCanvasElement>(null);

  useEffect(() => {
    const charts: Chart[] = [];
    const lineSets = runs
      .map((r, i) => ({
        data: runPts(r),
        borderColor: MATLAB[runColor[i] ?? i % 7],
        borderWidth: 3.2,
        pointRadius: 0,
        fill: false,
        borderJoinStyle: "round" as const,
      }))
      .reverse();
    const circleSet = {
      data: pts(circleX, circleExp.map((e) => Math.pow(10, e))),
      showLine: false,
      pointRadius: 6,
      pointBorderWidth: 4,
      pointBorderColor: "#FF0000",
      pointBackgroundColor: "rgba(0,0,0,0)",
      borderColor: "#FF0000",
      clip: false as const,
    };
    charts.push(
      new Chart(topRef.current!, {
        type: "line",
        data: { datasets: [circleSet, ...lineSets] as any },
        options: baseOptions({ left: 83, top: 8, right: 14, bottom: 361 }, 0, 5450, 1e-10, 10) as any,
        plugins: [
          axesPlugin({
            boxColor: "#333333", xTicks: topXTicks, xLabelY: 243.5, xFont: 21, xScaleX: 0.72, tickLen: 6,
            yDecades: topYDecades, yLabels: topYLabels, yMinor: false, baseFont: 15, supFont: 11.5, yGap: 8,
            extra: (ctx) => {
              drawYTitle(ctx, 20, 117);
              drawXTitle(ctx, "coarse grid matrix-vector products", 414, 279);
            },
          }),
        ],
      })
    );
    charts.push(
      new Chart(blRef.current!, {
        type: "line",
        data: { datasets: bottomSets() as any },
        options: baseOptions({ left: 85, top: 308, right: 250, bottom: 63 }, 0, 18160, 1e-10, 1) as any,
        plugins: [
          axesPlugin({
            boxColor: "#6a6a6a", xTicks: blXTicks, xLabelY: 541.5, xFont: 18, xScaleX: 0.97, tickLen: 5.5,
            yDecades: blYDecades, yLabels: blYLabels, yMinor: false, baseFont: 17, supFont: 13, yGap: 8,
            extra: (ctx) => {
              drawYTitle(ctx, 20, 416);
              drawXTitle(ctx, "fine-grid-equivalent matrix-vector products", 398, 577);
              ctx.save();
              ctx.fillStyle = "#ffffff";
              ctx.fillRect(347.5, 317.5, 138, 72);
              ctx.strokeStyle = "#262626";
              ctx.lineWidth = 1;
              ctx.strokeRect(347.5, 317.5, 138, 72);
              const rows = [
                { y: 332, color: "#000000", w: 4, dash: [] as number[] },
                { y: 354.5, color: "#FF0000", w: 5, dash: [23, 25] },
                { y: 375.5, color: "#00FF00", w: 5, dash: [17, 7] },
              ];
              rows.forEach((r, i) => {
                ctx.beginPath();
                ctx.setLineDash(r.dash);
                ctx.strokeStyle = r.color;
                ctx.lineWidth = r.w;
                ctx.moveTo(354, r.y);
                ctx.lineTo(413, r.y);
                ctx.stroke();
                ctx.setLineDash([]);
                ctx.fillStyle = "#262626";
                ctx.font = `16px ${FONT}`;
                ctx.textAlign = "left";
                ctx.textBaseline = "middle";
                ctx.fillText(legendLabels[i], 418, r.y + 0.5);
              });
              ctx.restore();
            },
          }),
        ],
      })
    );
    charts.push(
      new Chart(brRef.current!, {
        type: "line",
        data: { datasets: bottomSets() as any },
        options: baseOptions({ left: 555, top: 309, right: 14, bottom: 63 }, 0, 600, 1e-2, 1) as any,
        plugins: [
          axesPlugin({
            boxColor: "#6a6a6a", xTicks: brXTicks, xLabelY: 538.5, xFont: 16, xScaleX: 0.88, tickLen: 4.5,
            yDecades: brYDecades, yLabels: brYLabels, yMinor: true, baseFont: 16, supFont: 12, yGap: 5,
          }),
        ],
      })
    );
    return () => charts.forEach((c) => c.destroy());
  }, []);

  const cv: React.CSSProperties = { position: "absolute", left: 0, top: 0 };
  return (
    <div style={{ position: "fixed", left: 0, top: 0, width: 749, height: 585, background: "#ffffff" }}>
      <canvas ref={brRef} width={749} height={585} style={cv} />
      <canvas ref={blRef} width={749} height={585} style={cv} />
      <canvas ref={topRef} width={749} height={585} style={cv} />
    </div>
  );
}
